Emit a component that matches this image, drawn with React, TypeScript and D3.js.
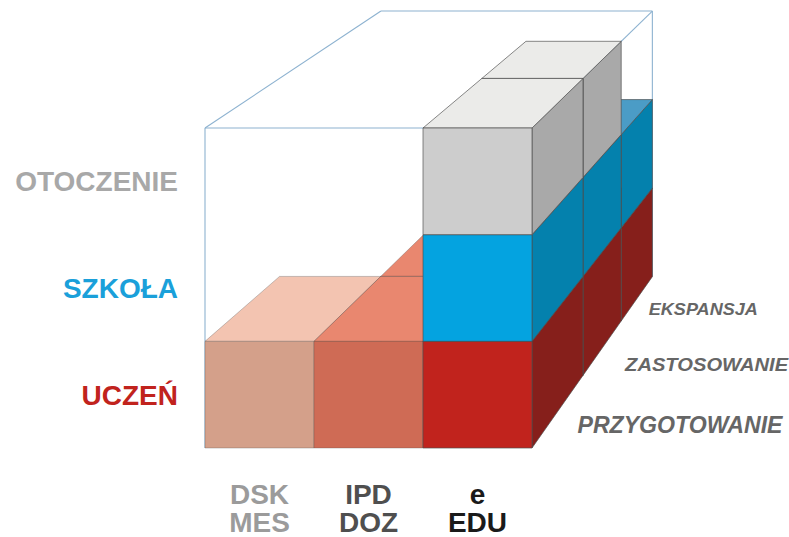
import React from "react";
import * as d3 from "d3";

// ---- data ----
const columnTop = ["DSK", "IPD", "e"];
const columnBottom = ["MES", "DOZ", "EDU"];
const levels = ["UCZEŃ", "SZKOŁA", "OTOCZENIE"];
const stages = ["PRZYGOTOWANIE", "ZASTOSOWANIE", "EKSPANSJA"];
// number of stages (depth) reached per level, for each column
const depthDSK = [1, 0, 0];
const depthIPD = [2, 0, 0];
const depthEDU = [3, 3, 2];
const depthByColumn = [depthDSK, depthIPD, depthEDU];

// ---- styles ----
const W = 789;
const H = 537;
const FONT = "'Liberation Sans', Arial, sans-serif";
const levelColors = ["#c1231d", "#1aa0da", "#a8a8a8"];
const columnLabelColors = ["#9b9b9b", "#4f4f4f", "#1a1a1a"];
const stageFont = [23, 19, 17];
const stageWidth = [205, 163, 109];
const stageOffset = [
  [20, 21],
  [23, 23],
  [12, 16],
];
// face colours [front, top, side] per column/level
const faceColors = (c: number, r: number) => {
  if (r === 2) return ["#cdcdcd", "#ebebe9", "#a9a9a9"];
  if (r === 1) return ["#04a3e0", "#4b9cc6", "#0481ad"];
  if (c === 0) return ["#d4a08a", "#f3c4b1", "#b07a66"];
  if (c === 1) return ["#cf6b55", "#e9876f", "#a84c3a"];
  return ["#c1231d", "#d2493c", "#861f1b"];
};

// ---- scales / projection ----
const x = d3.scaleLinear().domain([0, 3]).range([205, 532]);
const y = d3.scaleLinear().domain([0, 3]).range([448, 128]);
const persp = d3.scaleLinear().domain([0, 1, 2, 3]).range([1, 0.928, 0.874, 0.83]);
const VP = [1240, -560];
const P = (c: number, r: number, k: number): [number, number] => {
  const s = persp(k);
  return [VP[0] + (x(c) - VP[0]) * s, VP[1] + (y(r) - VP[1]) * s];
};
const line = d3.line();
const poly = (pts: [number, number][]) => line(pts)! + "Z";

type Cube = { c: number; r: number; k: number };
const cubes: Cube[] = [];
for (let k = 2; k >= 0; k--)
  for (let c = 0; c < 3; c++)
    for (let r = 0; r < 3; r++)
      if (depthByColumn[c][r] > k) cubes.push({ c, r, k });

const frameEdges: [[number, number, number], [number, number, number]][] = [
  [[0, 0, 0], [0, 3, 0]],
  [[0, 3, 0], [3, 3, 0]],
  [[0, 3, 0], [0, 3, 3]],
  [[0, 3, 3], [3, 3, 3]],
  [[3, 3, 3], [3, 3, 0]],
  [[3, 3, 3], [3, 0, 3]],
];

export default function App() {
  return (
    <svg
      width={W}
      height={H}
      style={{ position: "absolute", left: 0, top: 0, background: "#fff" }}
      fontFamily={FONT}
    >
      {frameEdges.map((e, i) => {
        const a = P(...e[0]);
        const b = P(...e[1]);
        return <line key={i} x1={a[0]} y1={a[1]} x2={b[0]} y2={b[1]} stroke="#8db2d0" strokeWidth={1.1} />;
      })}
      {cubes.map(({ c, r, k }, i) => {
        const [front, top, side] = faceColors(c, r);
        const st = { stroke: "#4d4d4d", strokeWidth: 0.9, strokeOpacity: r === 0 && c < 2 ? 0.35 : 0.75, strokeLinejoin: "round" as const };
        return (
          <g key={i}>
            <path d={poly([P(c + 1, r, k), P(c + 1, r, k + 1), P(c + 1, r + 1, k + 1), P(c + 1, r + 1, k)])} fill={side} {...st} />
            <path d={poly([P(c, r + 1, k), P(c + 1, r + 1, k), P(c + 1, r + 1, k + 1), P(c, r + 1, k + 1)])} fill={top} {...st} />
            <path d={poly([P(c, r, k), P(c + 1, r, k), P(c + 1, r + 1, k), P(c, r + 1, k)])} fill={front} {...st} />
          </g>
        );
      })}
      {levels.map((l, r) => (
        <text
          key={l}
          x={178}
          y={(y(r) + y(r + 1)) / 2 + 10}
          textAnchor="end"
          fontWeight="bold"
          fontSize={28}
          fill={levelColors[r]}
        >
          {l}
        </text>
      ))}
      {stages.map((s, k) => {
        const p = P(3, 0, k + 0.5);
        return (
          <text
            key={s}
            x={p[0] + stageOffset[k][0]}
            y={p[1] + stageOffset[k][1]}
            fontWeight="bold"
            fontStyle="italic"
            fontSize={stageFont[k]}
            textLength={stageWidth[k]}
            lengthAdjust="spacingAndGlyphs"
            fill="#666"
          >
            {s}
          </text>
        );
      })}
      {columnTop.map((t, c) => {
        const cx = (x(c) + x(c + 1)) / 2;
        return (
          <text key={t} fill={columnLabelColors[c]} fontWeight="bold" fontSize={28} textAnchor="middle" x={cx} y={y(0) + 56}>
            <tspan x={cx}>{t}</tspan>
            <tspan x={cx} dy={28}>{columnBottom[c]}</tspan>
          </text>
        );
      })}
    </svg>
  );
}
